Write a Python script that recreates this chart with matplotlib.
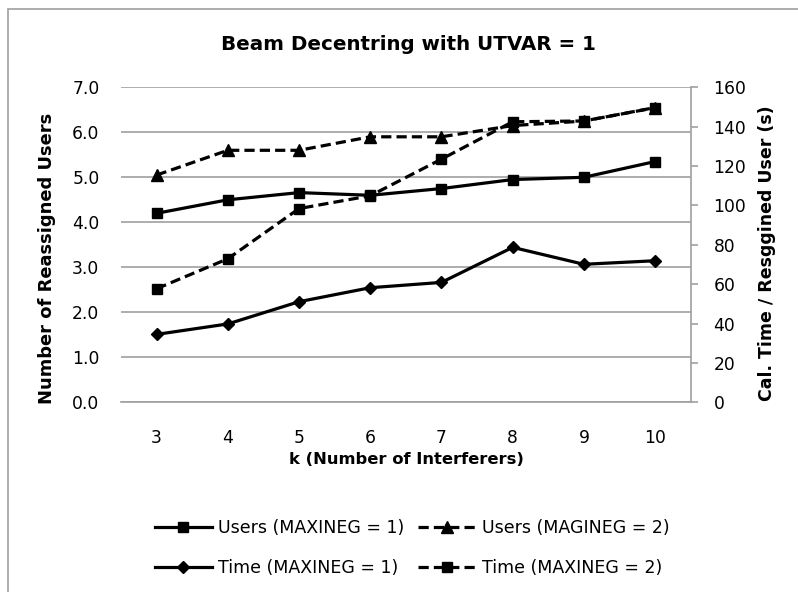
import numpy as np
import matplotlib
matplotlib.use('Agg')
import matplotlib.pyplot as plt
from matplotlib.patches import Rectangle

# data
k_values = ['3', '4', '5', '6', '7', '8', '9', '10']
users_maxineg1 = [4.2, 4.5, 4.66, 4.6, 4.75, 4.95, 5.0, 5.35]
users_magineg2 = [5.05, 5.6, 5.6, 5.9, 5.9, 6.15, 6.25, 6.55]
time_maxineg1 = [34.5, 39.8, 51.1, 58.2, 60.9, 78.7, 70.1, 71.9]
time_maxineg2 = [57.7, 72.9, 98.4, 104.9, 123.5, 142.5, 142.9, 149.6]

plt.rcParams['font.family'] = ['DejaVu Sans']
W, H = 798, 592
fig = plt.figure(figsize=(W / 100, H / 100), dpi=100)

# axes placed by pixel
left, right, top, bottom = 121, 690.7, 87.3, 402.3
ax = fig.add_axes([left / W, 1 - bottom / H, (right - left) / W, (bottom - top) / H])
ax2 = ax.twinx()

x = np.arange(len(k_values))
grid_c = '#a0a0a0'
lw = 2.3
dash = (3.2, 1.6)

l1, = ax.plot(x, users_maxineg1, color='black', lw=lw, marker='s', ms=7.5,
              label='Users (MAXINEG = 1)')
l2, = ax.plot(x, users_magineg2, color='black', lw=lw, ls=(0, dash), marker='^', ms=8.5,
              label='Users (MAGINEG = 2)')
l3, = ax2.plot(x, time_maxineg1, color='black', lw=lw, marker='D', ms=6.5,
               label='Time (MAXINEG = 1)')
l4, = ax2.plot(x, time_maxineg2, color='black', lw=lw, ls=(0, dash), marker='s', ms=7.5,
               label='Time (MAXINEG = 2)')

ax.set_xlim(-0.5, len(k_values) - 0.5)
ax.set_ylim(0, 7)
ax2.set_ylim(0, 160)
ax.set_yticks(np.arange(0, 7.01, 1.0))
ax.set_yticklabels(['%.1f' % v for v in np.arange(0, 7.01, 1.0)])
ax2.set_yticks(np.arange(0, 161, 20))
ax.set_xticks(x)
ax.set_xticklabels(k_values)

ax.grid(axis='y', color=grid_c, lw=1.2)
ax.set_axisbelow(True)
for s in ['top', 'left', 'right']:
    ax.spines[s].set_visible(False)
    ax2.spines[s].set_visible(False)
ax2.spines['right'].set_visible(True)
ax2.spines['right'].set_color(grid_c)
ax2.spines['right'].set_linewidth(1.2)
ax.spines['bottom'].set_color(grid_c)
ax.spines['bottom'].set_linewidth(1.2)
ax2.spines['bottom'].set_visible(False)

fs = 12.3
ax.tick_params(axis='x', length=0, pad=19.5, labelsize=fs)
ax.tick_params(axis='y', length=0, pad=15.5, labelsize=fs)
ax2.tick_params(axis='y', length=5, width=1.2, color=grid_c, pad=11.5, labelsize=fs)

fig.text(408 / W, 1 - 45 / H, 'Beam Decentring with UTVAR = 1', ha='center', va='center',
         fontsize=14.3, fontweight='bold')
fig.text(47 / W, 1 - 258 / H, 'Number of Reassigned Users', rotation=90, ha='center',
         va='center', fontsize=12.9, fontweight='bold')
fig.text(767 / W, 1 - 253 / H, 'Cal. Time / Resggined User (s)', rotation=90, ha='center',
         va='center', fontsize=12.5, fontweight='bold')
fig.text(406 / W, 1 - 460 / H, 'k (Number of Interferers)', ha='center', va='center',
         fontsize=11.8, fontweight='bold')

# ncol=2 fills by column, so order handles to get Users on row 1, Time on row 2
fig.legend(handles=[l1, l3, l2, l4], loc='center', bbox_to_anchor=(412 / W, 1 - 548 / H),
           ncol=2, frameon=False, fontsize=12.5, handlelength=3.3, handletextpad=0.35,
           columnspacing=0.8, labelspacing=1.3)

# outer chart border (cut off on the right and bottom)
fig.patches.append(Rectangle((8 / W, -0.1), 1.2, 1 - 9 / H + 0.1, transform=fig.transFigure,
                             fill=False, edgecolor=grid_c, lw=1.2))

fig.savefig('out.png', dpi=100)
